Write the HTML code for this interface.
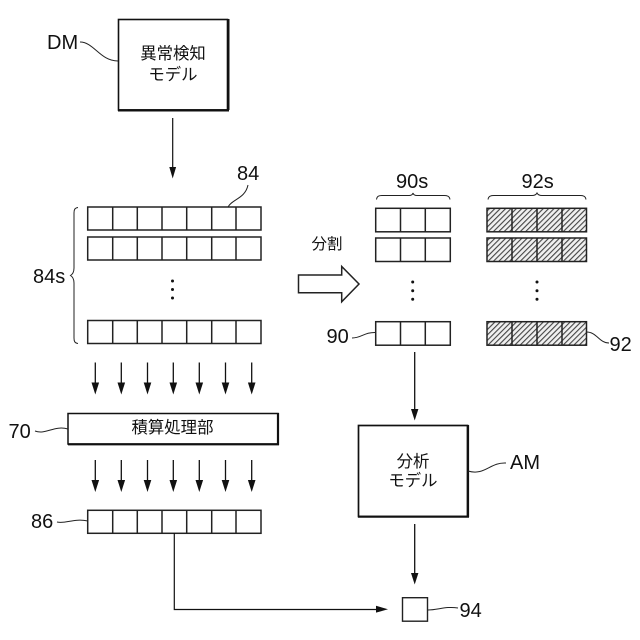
<!DOCTYPE html>
<html><head><meta charset="utf-8"><style>
html,body{margin:0;padding:0;background:#fff}
svg{display:block}
.l{font-family:"Liberation Sans",sans-serif;font-size:20px;fill:#111}
.j{font-family:"Liberation Sans","Noto Sans CJK JP",sans-serif;font-size:16.4px;fill:#111;text-anchor:middle}
.c{fill:none;stroke:#222;stroke-width:1}
</style></head><body>
<svg width="640" height="640" viewBox="0 0 640 640" xmlns="http://www.w3.org/2000/svg">
<defs>
<pattern id="h" width="3.8" height="3.8" patternUnits="userSpaceOnUse" patternTransform="rotate(45)">
<rect width="3.8" height="3.8" fill="#f0f0f0"/><rect width="1.1" height="3.8" fill="#444"/>
</pattern>
<g id="ar"><path d="M0 0V24" stroke="#111" stroke-width="1.3"/><path d="M-3.8 20L3.8 20L0 32Z" fill="#111"/></g>
<g id="r7" fill="#fff" stroke="#222" stroke-width="1.5"><rect x="87.7" y="0" width="173.3" height="23"/><path d="M112.7 0V23M137.3 0V23M162 0V23M186.7 0V23M211.7 0V23M236 0V23"/></g>
<g id="r3" fill="#fff" stroke="#222" stroke-width="1.5"><rect x="375.7" y="0" width="74.6" height="23.5"/><path d="M400.5 0V23.5M425.3 0V23.5"/></g>
<g id="r4" fill="url(#h)" stroke="#222" stroke-width="1.5"><rect x="487" y="0" width="99.5" height="23.5"/><path d="M512 0V23.5M537 0V23.5M562 0V23.5"/></g>
</defs>

<!-- DM box -->
<rect x="118.5" y="19.5" width="109" height="90.5" fill="#fff" stroke="#111" stroke-width="1.6"/>
<path d="M118 110.3H229M228.3 19V110" stroke="#111" stroke-width="2.4" fill="none"/>
<text class="j" x="173" y="59">異常検知</text>
<text class="j" x="173" y="80">モデル</text>
<text class="l" x="47" y="49">DM</text>
<path class="c" d="M80 42C94 42 100 61 118 61"/>

<!-- arrow down -->
<path d="M172.7 118V168" stroke="#111" stroke-width="1.2"/><path d="M169.3 167H176.1L172.7 178.5Z" fill="#111"/>

<!-- left rows -->
<use href="#r7" y="207"/><use href="#r7" y="237"/><use href="#r7" y="320.5"/>
<text class="l" x="237" y="180">84</text>
<path class="c" d="M228 207C232 199 245 199 248 185"/>
<path class="c" d="M78 207.5C74.5 208 74 210 74 213V268C74 272 73 274 70.5 275.5C73 277 74 279 74 283V338C74 341 74.5 343 78 343.5" stroke-width="1.2"/>
<text class="l" x="33" y="283">84s</text>
<g fill="#111"><circle cx="172.5" cy="281" r="1.5"/><circle cx="172.5" cy="289.5" r="1.5"/><circle cx="172.5" cy="298" r="1.5"/></g>

<!-- right rows -->
<text class="l" x="396" y="188">90s</text>
<text class="l" x="521.5" y="188">92s</text>
<path class="c" d="M376.5 199.5C377 196 379 195.5 382 195.5H409C411 195.5 412.5 195 413 193C413.5 195 415 195.5 417 195.5H444C447 195.5 449.5 196 450 199.5" stroke-width="1.1"/>
<path class="c" d="M488 199.5C488.5 196 491 195.5 494 195.5H532C534 195.5 536 195 537 193C538 195 540 195.5 542 195.5H580C583 195.5 585.5 196 586 199.5" stroke-width="1.1"/>
<use href="#r3" y="208.3"/><use href="#r3" y="238"/><use href="#r3" y="321.7"/>
<use href="#r4" y="208.3"/><use href="#r4" y="238"/><use href="#r4" y="321.7"/>
<text class="j" x="327" y="249" style="font-size:15.5px">分割</text>
<path d="M298.5 275H341.7V266.5L359 284L341.7 301.8V292.7H298.5Z" fill="#fff" stroke="#222" stroke-width="1.5"/>
<g fill="#111"><circle cx="412.7" cy="282" r="1.5"/><circle cx="412.7" cy="290.7" r="1.5"/><circle cx="412.7" cy="299.3" r="1.5"/><circle cx="537" cy="282" r="1.5"/><circle cx="537" cy="290.7" r="1.5"/><circle cx="537" cy="299.3" r="1.5"/></g>
<text class="l" x="326.5" y="343">90</text>
<path class="c" d="M352 338C362 338 364 332 376 332.5"/>
<text class="l" x="609.5" y="351">92</text>
<path class="c" d="M586.5 332C597 332 599 343 609 343"/>

<!-- arrows rows -->
<use href="#ar" x="95.3" y="362.5"/><use href="#ar" x="121.3" y="362.5"/><use href="#ar" x="147.5" y="362.5"/><use href="#ar" x="173.3" y="362.5"/><use href="#ar" x="199.3" y="362.5"/><use href="#ar" x="225.5" y="362.5"/><use href="#ar" x="251.7" y="362.5"/>

<rect x="68" y="413.5" width="210" height="30.5" fill="#fff" stroke="#111" stroke-width="1.5"/>
<path d="M68 444.3H279M278 413V445" stroke="#111" stroke-width="2.2" fill="none"/>
<text class="j" x="172.5" y="433">積算処理部</text>
<text class="l" x="8.5" y="438">70</text>
<path class="c" d="M35 431C46 435 54 425 68 429"/>

<use href="#ar" x="95.3" y="460"/><use href="#ar" x="121.3" y="460"/><use href="#ar" x="147.5" y="460"/><use href="#ar" x="173.3" y="460"/><use href="#ar" x="199.3" y="460"/><use href="#ar" x="225.5" y="460"/><use href="#ar" x="251.7" y="460"/>

<use href="#r7" y="510.3"/>
<text class="l" x="31" y="528">86</text>
<path class="c" d="M57 522C66 524 74 518 88 521"/>

<!-- connector -->
<path d="M174.3 533V609.5H378" fill="none" stroke="#111" stroke-width="1.2"/>
<path d="M376 605.8V612.6L388 609.3Z" fill="#111"/>

<!-- right column -->
<path d="M414.7 352V411" stroke="#111" stroke-width="1.3"/><path d="M411 409H418.4L414.7 420.5Z" fill="#111"/>
<rect x="358.5" y="425.5" width="109" height="91" fill="#fff" stroke="#111" stroke-width="1.7"/>
<path d="M358 516.7H469M468 425V517" stroke="#111" stroke-width="2.2" fill="none"/>
<text class="j" x="413" y="467">分析</text>
<text class="j" x="413" y="486">モデル</text>
<text class="l" x="510" y="469">AM</text>
<path class="c" d="M468 471C485 476 490 462 506 463"/>
<path d="M414.7 524V574" stroke="#111" stroke-width="1.3"/><path d="M411 573H418.4L414.7 584.5Z" fill="#111"/>
<rect x="402.5" y="597.7" width="25" height="23.5" fill="#fff" stroke="#222" stroke-width="1.4"/>
<text class="l" x="459.5" y="617">94</text>
<path class="c" d="M428 610C438 610 446 606 458 608"/>
</svg>
</body></html>
